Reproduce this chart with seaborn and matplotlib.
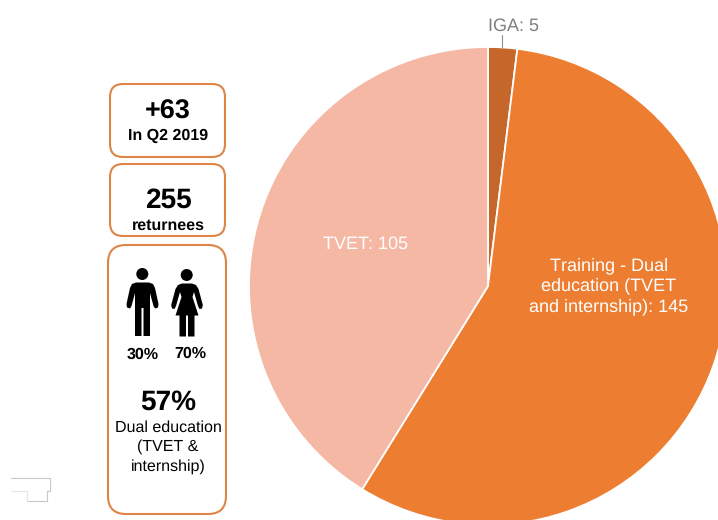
import matplotlib
matplotlib.use('Agg')
import matplotlib.pyplot as plt
from matplotlib.patches import FancyBboxPatch, Circle, Polygon
import seaborn as sns

# data
categories = ['IGA', 'Training - Dual education', 'TVET']
returnees = [5, 145, 105]
slice_colors = ['#C5662A', '#ED7D31', '#F4B8A4']
quarter_label = '+63'
total_label = '255'
male_share = '30%'
female_share = '70%'
dual_share = '57%'

sns.set_theme(style='white')
plt.rcParams['font.family'] = ['Liberation Sans', 'DejaVu Sans']
plt.rcParams['text.hinting'] = 'none'
plt.rcParams['text.hinting_factor'] = 1

W, H = 718, 520
BOX_COLOR = '#DE8447'
fig = plt.figure(figsize=(W / 100, H / 100), dpi=100, facecolor='white')

# ==========================================
# PIE (square axes runs off the right and bottom edges)
# ==========================================
cx, cy, r = 488, 286, 239
ax_pie = fig.add_axes([(cx - r) / W, 1 - (cy + r) / H, 2 * r / W, 2 * r / H])
ax_pie.pie(returnees, colors=slice_colors, startangle=90, counterclock=False,
           radius=1, wedgeprops={'edgecolor': 'white', 'linewidth': 1.3})
ax_pie.set_xlim(-1, 1)
ax_pie.set_ylim(-1, 1)
ax_pie.axis('off')

# ==========================================
# OVERLAY in pixel coordinates
# ==========================================
ax = fig.add_axes([0, 0, 1, 1], facecolor='none')
ax.set_xlim(0, W)
ax.set_ylim(H, 0)
ax.axis('off')


def label(x, y, s, size, weight='normal', color='black'):
    ax.text(x, y, s, fontsize=size, fontweight=weight, color=color,
            ha='center', va='center')


def box(x0, y0, x1, y1, pad):
    ax.add_patch(FancyBboxPatch((x0 + pad, y0 + pad), x1 - x0 - 2 * pad, y1 - y0 - 2 * pad,
                                boxstyle=f'round,pad={pad},rounding_size={pad}',
                                fc='white', ec=BOX_COLOR, lw=1.5))


box(110, 84, 225, 157, 13)
box(110, 164, 225, 236, 13)
box(108, 245, 226, 514, 18)

label(168, 112, quarter_label, 19.5, 'bold')
label(168, 136, 'In Q2 2019', 11.4, 'bold')
label(168, 200, total_label, 20, 'bold')
label(168, 226, 'returnees', 11.6, 'bold')
label(142.5, 355, male_share, 11.5, 'bold')
label(190, 354, female_share, 11.5, 'bold')
label(168, 402, dual_share, 20, 'bold')
label(168, 428, 'Dual education', 11.5)
label(168, 447, '(TVET &', 11.5)
label(168, 467, 'internship)', 11.5)

# man icon
ax.add_patch(Circle((142.3, 274), 6, fc='black', ec='none'))
ax.add_patch(Polygon([(136, 282.5), (149, 282.5), (153, 284), (155, 288), (158.5, 304), (158, 307.5),
                      (155, 308.5), (153.5, 306), (150, 293), (150, 336), (143.5, 336), (143.5, 308),
                      (141.5, 308), (141.5, 336), (135, 336), (135, 293), (131.5, 306), (130, 308.5),
                      (127, 307.5), (126.5, 304), (130, 288), (132, 284)],
                     closed=True, fc='black', ec='none'))

# woman icon
ax.add_patch(Circle((186.7, 275), 6, fc='black', ec='none'))
ax.add_patch(Polygon([(182, 283.5), (192, 283.5), (196, 285), (198.5, 289), (202.8, 305), (202, 308.5),
                      (199.5, 309), (198, 306), (194, 292), (192.5, 297), (198.5, 315.5), (194.5, 315.5),
                      (194.5, 336.5), (188, 336.5), (188, 315.5), (186, 315.5), (186, 336.5), (179.5, 336.5),
                      (179.5, 315.5), (175.5, 315.5), (181.5, 297), (180, 292), (176, 306), (174.5, 309),
                      (172, 308.5), (171.2, 305), (175.5, 289), (178, 285)],
                     closed=True, fc='black', ec='none'))

# pie labels
label(513.5, 26, f'{categories[0]}: {returnees[0]}', 13, color='#7F7F7F')
ax.plot([502, 502], [35, 47], color='#8C8C8C', lw=0.8)
label(366, 244, f'{categories[2]}: {returnees[2]}', 13, color='white')
label(609, 265.5, 'Training - Dual', 13, color='white')
label(609, 286, 'education (TVET', 13, color='white')
label(609, 307, f'and internship): {returnees[1]}', 13, color='white')

# small stray outline at the lower left
ax.plot([11, 49.5, 49.5, 46.5, 46.5, 27], [478, 478, 491, 491, 500.5, 500.5], color='#C8C8C8', lw=0.8)
ax.plot([11, 27, 27], [491, 491, 500.5], color='#E6E6E6', lw=0.8)

fig.savefig('out.png', dpi=100)
